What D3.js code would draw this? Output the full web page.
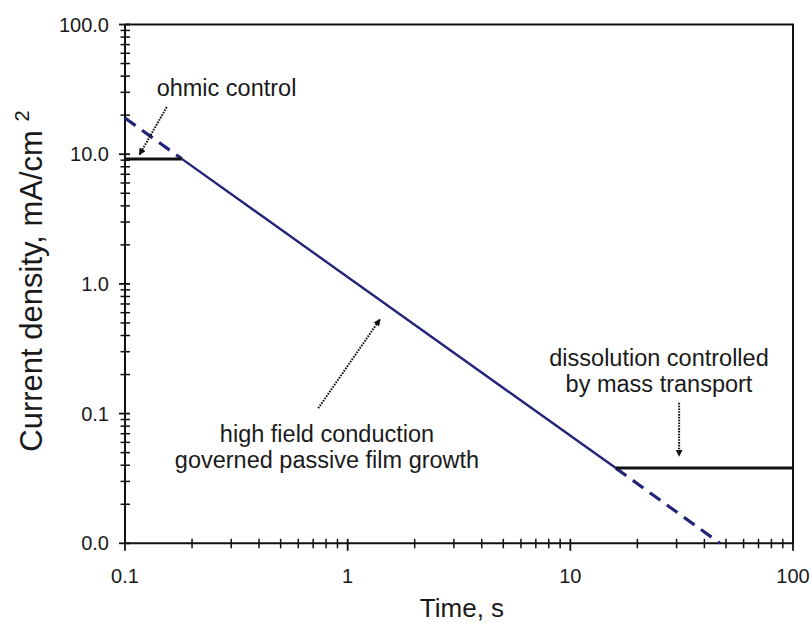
<!DOCTYPE html>
<html>
<head>
<meta charset="utf-8">
<script src="https://cdn.jsdelivr.net/npm/d3@7"></script>
<style>
  html, body { margin: 0; padding: 0; background: #fff; }
  svg { display: block; }
  text { font-family: "Liberation Sans", Arial, sans-serif; fill: #1a1a1a; }
</style>
</head>
<body>
<svg id="chart" width="812" height="626"></svg>
<script>
// Time axis (s) and current density axis (mA/cm²), both logarithmic
const xTickValues = [0.1, 1, 10, 100];
const xTickLabels = ["0.1", "1", "10", "100"];
const yTickValues = [0.01, 0.1, 1, 10, 100];
const yTickLabels = ["0.0", "0.1", "1.0", "10.0", "100.0"];

// Current transient segments: [time, current density]
const earlyExtrapolation = [[0.1, 19], [0.18, 9.2]];    // dashed power-law extension, short times
const lateExtrapolation  = [[16, 0.038], [47, 0.01]];   // dashed power-law extension, long times
const filmGrowth         = [[0.18, 9.2], [16, 0.038]];  // high-field conduction regime
const ohmicLimit         = [[0.1, 9.2], [0.18, 9.2]];   // ohmic plateau
const transportLimit     = [[16, 0.038], [100, 0.038]]; // mass-transport plateau

// Annotation arrows in data units: [from, to]
const arrowOhmic     = [[0.154, 23.1], [0.116, 9.9]];
const arrowGrowth    = [[0.738, 0.110], [1.396, 0.533]];
const arrowTransport = [[30.8, 0.121], [30.8, 0.0471]];

const margin = { left: 125, top: 24.5, right: 19, bottom: 82.7 };
const W = 812, H = 626;
const x0 = margin.left, x1 = W - margin.right;
const y0 = margin.top, y1 = H - margin.bottom;

const svg = d3.select("#chart");

const x = d3.scaleLog().domain([0.1, 100]).range([x0, x1]);
const y = d3.scaleLog().domain([0.01, 100]).range([y1, y0]);

// minor tick values (2..9 per decade)
function minorTicks(lo, hi) {
  const out = [];
  for (let e = Math.round(Math.log10(lo)); e < Math.round(Math.log10(hi)); e++) {
    for (let k = 2; k <= 9; k++) out.push(k * Math.pow(10, e));
  }
  return out;
}

const navy = "#23237a";
const ink = "#111";

// frame: top and right border
svg.append("path")
  .attr("d", `M${x0},${y0}H${x1}V${y1}`)
  .attr("fill", "none").attr("stroke", ink).attr("stroke-width", 2);

// x axis
const gx = svg.append("g");
gx.append("line").attr("x1", x0).attr("x2", x1).attr("y1", y1).attr("y2", y1)
  .attr("stroke", ink).attr("stroke-width", 2);
gx.selectAll("line.minor").data(minorTicks(0.1, 100)).join("line")
  .attr("class", "minor")
  .attr("x1", d => x(d)).attr("x2", d => x(d))
  .attr("y1", y1 - 4.5).attr("y2", y1 + 5)
  .attr("stroke", ink).attr("stroke-width", 1.5);
gx.selectAll("line.major").data(xTickValues).join("line")
  .attr("class", "major")
  .attr("x1", d => x(d)).attr("x2", d => x(d))
  .attr("y1", y1 - 4.5).attr("y2", y1 + 7.5)
  .attr("stroke", ink).attr("stroke-width", 1.8);
gx.selectAll("text").data(xTickValues).join("text")
  .attr("x", d => x(d)).attr("y", y1 + 40)
  .attr("text-anchor", "middle").attr("font-size", 20)
  .text((d, i) => xTickLabels[i]);

// y axis
const gy = svg.append("g");
gy.append("line").attr("x1", x0).attr("x2", x0).attr("y1", y0).attr("y2", y1)
  .attr("stroke", ink).attr("stroke-width", 2);
gy.selectAll("line.minor").data(minorTicks(0.01, 100)).join("line")
  .attr("class", "minor")
  .attr("y1", d => y(d)).attr("y2", d => y(d))
  .attr("x1", x0 - 4.5).attr("x2", x0 + 5)
  .attr("stroke", ink).attr("stroke-width", 1.5);
gy.selectAll("line.major").data(yTickValues).join("line")
  .attr("class", "major")
  .attr("y1", d => y(d)).attr("y2", d => y(d))
  .attr("x1", x0 - 6).attr("x2", x0 + 5)
  .attr("stroke", ink).attr("stroke-width", 1.8);
gy.selectAll("text").data(yTickValues).join("text")
  .attr("x", x0 - 16).attr("y", d => y(d) + 7)
  .attr("text-anchor", "end").attr("font-size", 20)
  .text((d, i) => yTickLabels[i]);

// axis titles
svg.append("text")
  .attr("x", 462).attr("y", 617)
  .attr("text-anchor", "middle").attr("font-size", 26)
  .text("Time, s");

const yTitle = svg.append("text")
  .attr("transform", `translate(42,281) rotate(-90)`)
  .attr("text-anchor", "middle").attr("font-size", 31);
yTitle.append("tspan").text("Current density, mA/cm ");
yTitle.append("tspan").attr("font-size", 20).attr("dy", -13).text("2");

// current transient
const line = d3.line().x(d => x(d[0])).y(d => y(d[1]));

[earlyExtrapolation, lateExtrapolation].forEach(seg => {
  svg.append("path").datum(seg)
    .attr("d", line).attr("fill", "none")
    .attr("stroke", navy).attr("stroke-width", 3.2)
    .attr("stroke-dasharray", "13,8");
});

svg.append("path").datum(filmGrowth)
  .attr("d", line).attr("fill", "none")
  .attr("stroke", navy).attr("stroke-width", 2.4);

[ohmicLimit, transportLimit].forEach(seg => {
  svg.append("path").datum(seg)
    .attr("d", line).attr("fill", "none")
    .attr("stroke", ink).attr("stroke-width", 3);
});

// dotted annotation arrows
svg.append("defs").append("marker")
  .attr("id", "head")
  .attr("viewBox", "0 0 10 10")
  .attr("refX", 9).attr("refY", 5)
  .attr("markerUnits", "userSpaceOnUse")
  .attr("markerWidth", 7).attr("markerHeight", 7)
  .attr("orient", "auto")
  .append("path").attr("d", "M0,0L10,5L0,10z").attr("fill", ink);

[arrowOhmic, arrowGrowth, arrowTransport].forEach(a => {
  svg.append("line")
    .attr("x1", x(a[0][0])).attr("y1", y(a[0][1]))
    .attr("x2", x(a[1][0])).attr("y2", y(a[1][1]))
    .attr("stroke", ink).attr("stroke-width", 2)
    .attr("stroke-dasharray", "1.6,1.2")
    .attr("marker-end", "url(#head)");
});

// annotation text
function label(lines, cx, baseline, step) {
  const t = svg.append("text").attr("text-anchor", "middle").attr("font-size", 23.5);
  lines.forEach((s, i) => {
    t.append("tspan").attr("x", cx).attr("y", baseline + i * step).text(s);
  });
}
label(["ohmic control"], 226.5, 96, 0);
label(["high field conduction", "governed passive film growth"], 327, 442, 26);
label(["dissolution controlled", "by mass transport"], 659, 366, 26);
</script>
</body>
</html>
